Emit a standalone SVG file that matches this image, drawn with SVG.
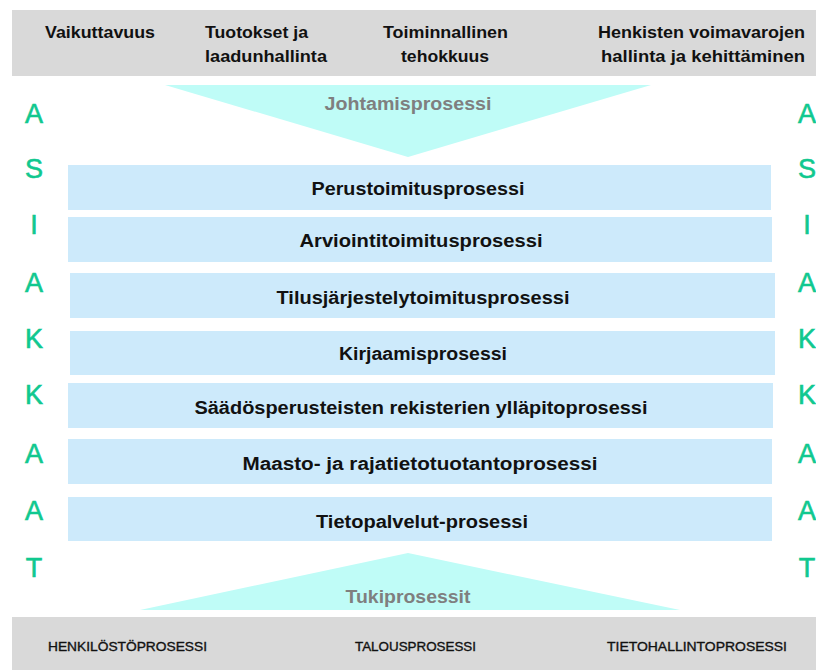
<svg xmlns="http://www.w3.org/2000/svg" width="816" height="670" viewBox="0 0 816 670">
<style>
.bar{fill:#d9d9d9}
.tri{fill:#bffcf7}
.box{fill:#cdeafb}
.t{font-family:"Liberation Sans",Arial,sans-serif;font-weight:bold;font-size:18px;fill:#111;text-anchor:middle}
.h{font-family:"Liberation Sans",Arial,sans-serif;font-weight:bold;font-size:17px;fill:#111}
.g{font-family:"Liberation Sans",Arial,sans-serif;font-weight:bold;font-size:18px;fill:#7f7f7f;text-anchor:middle}
.s{font-family:"Liberation Sans",Arial,sans-serif;font-size:13px;fill:#111;stroke:#111;stroke-width:0.35}
.l{font-family:"Liberation Sans",Arial,sans-serif;font-size:27px;fill:#10c88f;stroke:#10c88f;stroke-width:0.6;text-anchor:middle}
</style>
<rect width="816" height="670" fill="#ffffff"/>
<g id="top-bar">
<rect class="bar" x="12" y="10" width="804" height="66"/>
<text class="h" x="45" y="38" textLength="110" lengthAdjust="spacingAndGlyphs">Vaikuttavuus</text>
<text class="h" x="205" y="38" textLength="103" lengthAdjust="spacingAndGlyphs">Tuotokset ja</text>
<text class="h" x="205" y="62" textLength="122" lengthAdjust="spacingAndGlyphs">laadunhallinta</text>
<text class="h" x="383" y="38" textLength="125" lengthAdjust="spacingAndGlyphs">Toiminnallinen</text>
<text class="h" x="401" y="62" textLength="88" lengthAdjust="spacingAndGlyphs">tehokkuus</text>
<text class="h" x="598" y="38" textLength="207" lengthAdjust="spacingAndGlyphs">Henkisten voimavarojen</text>
<text class="h" x="601" y="62" textLength="204" lengthAdjust="spacingAndGlyphs">hallinta ja kehittäminen</text>
</g>
<g id="johtamisprosessi">
<polygon class="tri" points="165,85 651,85 408,157"/>
<text class="g" x="408" y="110" textLength="167" lengthAdjust="spacingAndGlyphs">Johtamisprosessi</text>
</g>
<g id="p1"><rect class="box" x="68" y="165" width="703" height="45"/><text class="t" x="418" y="195" textLength="213" lengthAdjust="spacingAndGlyphs">Perustoimitusprosessi</text></g>
<g id="p2"><rect class="box" x="68" y="217" width="704" height="45"/><text class="t" x="421" y="247" textLength="243" lengthAdjust="spacingAndGlyphs">Arviointitoimitusprosessi</text></g>
<g id="p3"><rect class="box" x="70" y="273" width="705" height="45"/><text class="t" x="423" y="304" textLength="293" lengthAdjust="spacingAndGlyphs">Tilusjärjestelytoimitusprosessi</text></g>
<g id="p4"><rect class="box" x="70" y="331" width="705" height="44"/><text class="t" x="423" y="360" textLength="168" lengthAdjust="spacingAndGlyphs">Kirjaamisprosessi</text></g>
<g id="p5"><rect class="box" x="68" y="383" width="705" height="45"/><text class="t" x="421" y="414" textLength="453" lengthAdjust="spacingAndGlyphs">Säädösperusteisten rekisterien ylläpitoprosessi</text></g>
<g id="p6"><rect class="box" x="68" y="439" width="704" height="45"/><text class="t" x="420" y="470" textLength="355" lengthAdjust="spacingAndGlyphs">Maasto- ja rajatietotuotantoprosessi</text></g>
<g id="p7"><rect class="box" x="68" y="497" width="704" height="44"/><text class="t" x="422" y="528" textLength="212" lengthAdjust="spacingAndGlyphs">Tietopalvelut-prosessi</text></g>
<g id="tukiprosessit">
<polygon class="tri" points="408,553 680,610 140,610"/>
<text class="g" x="408" y="603" textLength="125" lengthAdjust="spacingAndGlyphs">Tukiprosessit</text>
</g>
<g id="bottom-bar">
<rect class="bar" x="12" y="617" width="804" height="53"/>
<text class="s" x="48" y="651" textLength="159" lengthAdjust="spacingAndGlyphs">HENKILÖSTÖPROSESSI</text>
<text class="s" x="355" y="651" textLength="121" lengthAdjust="spacingAndGlyphs">TALOUSPROSESSI</text>
<text class="s" x="607" y="651" textLength="180" lengthAdjust="spacingAndGlyphs">TIETOHALLINTOPROSESSI</text>
</g>
<g id="asiakkaat-left">
<text class="l" x="34" y="123">A</text>
<text class="l" x="34" y="178">S</text>
<text class="l" x="34" y="234">I</text>
<text class="l" x="34" y="292">A</text>
<text class="l" x="34" y="348">K</text>
<text class="l" x="34" y="404">K</text>
<text class="l" x="34" y="463">A</text>
<text class="l" x="34" y="520">A</text>
<text class="l" x="34" y="577">T</text>
</g>
<g id="asiakkaat-right">
<text class="l" x="807" y="123">A</text>
<text class="l" x="807" y="178">S</text>
<text class="l" x="807" y="234">I</text>
<text class="l" x="807" y="292">A</text>
<text class="l" x="807" y="348">K</text>
<text class="l" x="807" y="404">K</text>
<text class="l" x="807" y="463">A</text>
<text class="l" x="807" y="520">A</text>
<text class="l" x="807" y="577">T</text>
</g>
</svg>
